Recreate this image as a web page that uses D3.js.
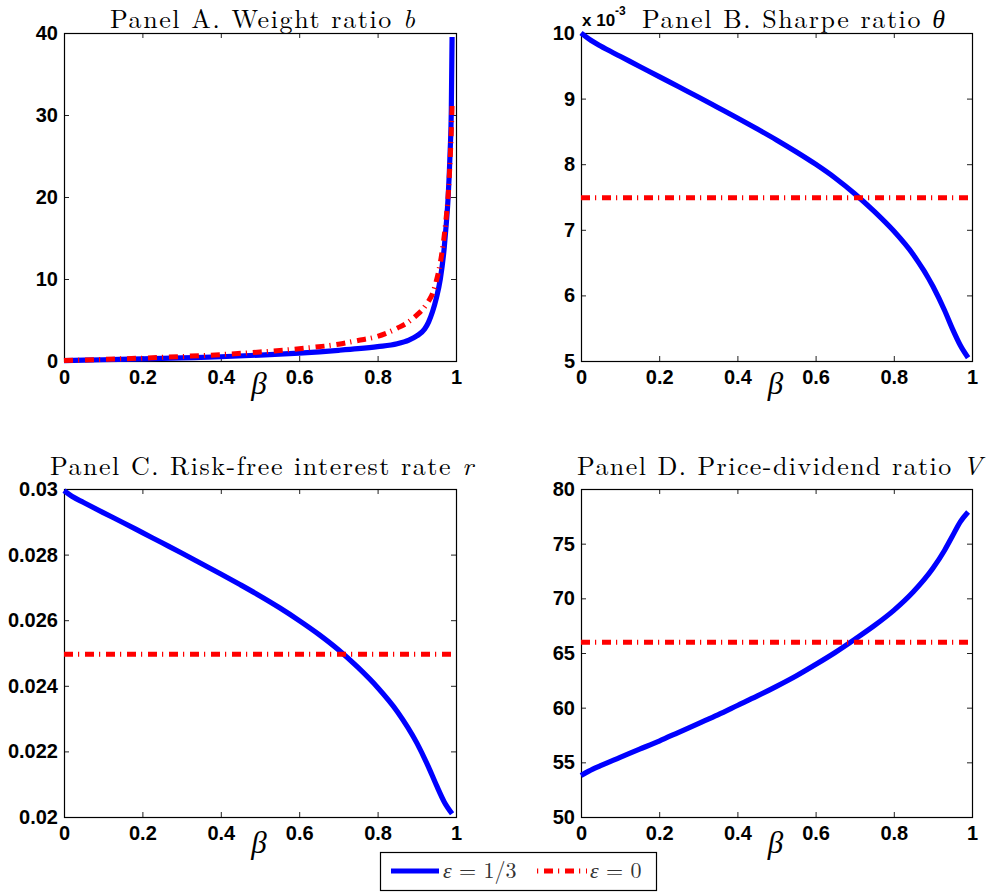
<!DOCTYPE html>
<html>
<head>
<meta charset="utf-8">
<script src="https://cdn.jsdelivr.net/npm/d3@7"></script>
<style>
  html, body { margin: 0; padding: 0; background: #fff; }
  svg { display: block; }
</style>
</head>
<body>
<svg id="chart" width="988" height="894"></svg>
<script>
// ---------------- DATA ----------------
const betaA = [0,0.1,0.2,0.3,0.4,0.5,0.6,0.7,0.75,0.8,0.85,0.88,0.9,0.92,0.93,0.94,0.95,0.96,0.97,0.975,0.98,0.985,0.988,0.99];
const weightEps13 = [0.05,0.15,0.25,0.38,0.52,0.72,0.97,1.3,1.5,1.75,2.1,2.55,3.05,3.9,4.75,6.0,7.7,10.0,13.8,16.6,20.0,25.5,30.5,39.5];
const weightEps0  = [0.05,0.2,0.35,0.55,0.78,1.1,1.5,2.05,2.5,3.0,4.0,4.8,5.6,6.6,7.3,8.2,9.8,12.0,15.3,17.5,20.2,24.5,28.0,31.2];

const betaGrid = [0,0.02,0.05,0.1,0.15,0.2,0.25,0.3,0.35,0.4,0.45,0.5,0.55,0.6,0.65,0.7,0.75,0.8,0.85,0.9,0.93,0.95,0.97,0.99];
const sharpeEps13 = [10.0,9.91,9.80,9.645,9.49,9.335,9.18,9.025,8.865,8.705,8.54,8.37,8.19,8.00,7.79,7.55,7.28,6.98,6.62,6.14,5.77,5.49,5.24,5.05];
const rateEps13 = [0.02995,0.02978,0.02959,0.02928,0.02898,0.02867,0.02836,0.02805,0.02773,0.02741,0.02708,0.02674,0.02638,0.02599,0.02557,0.02510,0.02456,0.02395,0.02322,0.02226,0.02152,0.02097,0.02046,0.02010];
const pdEps13 = [53.8,54.2,54.7,55.45,56.2,56.95,57.75,58.55,59.35,60.2,61.05,61.95,62.9,63.95,65.05,66.25,67.5,68.9,70.6,72.75,74.4,75.7,77.0,77.9];

const betaFlat = [0, 0.99];
const sharpeEps0 = [7.49, 7.49];
const rateEps0 = [0.02496, 0.02496];
const pdEps0 = [65.98, 65.98];

const xTicks = [0,0.2,0.4,0.6,0.8,1];
const xTickLabels = ["0","0.2","0.4","0.6","0.8","1"];
const yTicksA = [0,10,20,30,40];
const yTickLabelsA = ["0","10","20","30","40"];
const yTicksB = [5,6,7,8,9,10];
const yTickLabelsB = ["5","6","7","8","9","10"];
const yTicksC = [0.02,0.022,0.024,0.026,0.028,0.03];
const yTickLabelsC = ["0.02","0.022","0.024","0.026","0.028","0.03"];
const yTicksD = [50,55,60,65,70,75,80];
const yTickLabelsD = ["50","55","60","65","70","75","80"];

const legendLabels = ["1/3", "0"];

// ---------------- DRAW ----------------
const svg = d3.select("#chart");
const BLUE = "#0000ff", RED = "#ff0000";
const tickFont = "'Liberation Sans', Arial, Helvetica, sans-serif";
const serif = "'Latin Modern Roman','CMU Serif','Liberation Serif','Times New Roman',serif";

const panels = [
  { box:[64,456,33,361], yDom:[0,40], yTicks:yTicksA, yLabels:yTickLabelsA,
    xs:[betaA, betaA], ys:[weightEps13, weightEps0],
    title:["Panel A. Weight ratio ", "b"], tx:110, ty:28, tlen:305, betaY:394 },
  { box:[581,972,33,361], yDom:[5,10], yTicks:yTicksB, yLabels:yTickLabelsB,
    xs:[betaGrid, betaFlat], ys:[sharpeEps13, sharpeEps0],
    title:["Panel B. Sharpe ratio ", "θ"], tx:642, ty:28, tlen:303, betaY:394, expo:true },
  { box:[64,456,489,817], yDom:[0.02,0.03], yTicks:yTicksC, yLabels:yTickLabelsC,
    xs:[betaGrid, betaFlat], ys:[rateEps13, rateEps0],
    title:["Panel C. Risk-free interest rate ", "r"], tx:50, ty:475, tlen:423, betaY:853 },
  { box:[581,972,489,817], yDom:[50,80], yTicks:yTicksD, yLabels:yTickLabelsD,
    xs:[betaGrid, betaFlat], ys:[pdEps13, pdEps0],
    title:["Panel D. Price-dividend ratio ", "V"], tx:577, ty:475, tlen:405, betaY:853 }
];

panels.forEach(p => {
  const [x0,x1,y0,y1] = p.box;
  const x = d3.scaleLinear().domain([0,1]).range([x0,x1]);
  const y = d3.scaleLinear().domain(p.yDom).range([y1,y0]);
  const g = svg.append("g");

  const fmtX = d => xTickLabels[xTicks.indexOf(d)];
  const fmtY = d => p.yLabels[p.yTicks.indexOf(d)];
  const ax = [
    g.append("g").attr("transform",`translate(0,${y1})`)
      .call(d3.axisBottom(x).tickValues(xTicks).tickFormat(fmtX).tickSizeInner(-5).tickSizeOuter(0).tickPadding(9)),
    g.append("g").attr("transform",`translate(0,${y0})`)
      .call(d3.axisTop(x).tickValues(xTicks).tickFormat("").tickSizeInner(-5).tickSizeOuter(0)),
    g.append("g").attr("transform",`translate(${x0},0)`)
      .call(d3.axisLeft(y).tickValues(p.yTicks).tickFormat(fmtY).tickSizeInner(-5).tickSizeOuter(0).tickPadding(6)),
    g.append("g").attr("transform",`translate(${x1},0)`)
      .call(d3.axisRight(y).tickValues(p.yTicks).tickFormat("").tickSizeInner(-5).tickSizeOuter(0))
  ];
  ax.forEach(a => {
    a.select(".domain").remove();
    a.selectAll("line").attr("stroke","#222");
    a.selectAll("text").attr("font-family",tickFont).attr("font-weight","bold")
      .attr("font-size","20px").attr("fill","#000");
  });

  g.append("rect").attr("x",x0+0.5).attr("y",y0+0.5).attr("width",x1-x0).attr("height",y1-y0)
    .attr("fill","none").attr("stroke","#000").attr("stroke-width",1.2);

  const line = d3.line().x(d=>x(d[0])).y(d=>y(d[1])).curve(d3.curveMonotoneX);
  const blueData = p.xs[0].map((b,i)=>[b,p.ys[0][i]]);
  const redData = p.xs[1].map((b,i)=>[b,p.ys[1][i]]);
  g.append("path").attr("d",line(blueData)).attr("fill","none").attr("stroke",BLUE)
    .attr("stroke-width",5.2).attr("stroke-linejoin","round");
  g.append("path").attr("d",line(redData)).attr("fill","none").attr("stroke",RED)
    .attr("stroke-width",5).attr("stroke-dasharray","9,5,1.2,5.8");

  // title: fit width with letter spacing
  const t = g.append("text").attr("x",p.tx).attr("y",p.ty)
    .attr("font-family",serif).attr("font-size","26px").attr("fill","#000");
  t.append("tspan").text(p.title[0]);
  t.append("tspan").attr("font-style","italic").text(p.title[1]);
  const nat = t.node().getComputedTextLength();
  const n = (p.title[0] + p.title[1]).length;
  const ls = Math.max(0, (p.tlen - nat) / (n - 1));
  t.attr("letter-spacing", ls.toFixed(2) + "px");

  g.append("text").attr("x",(x0+x1)/2-1).attr("y",p.betaY).attr("text-anchor","middle")
    .attr("font-family",serif).attr("font-style","italic").attr("font-size","31px").text("β");

  if (p.expo) {
    const e = g.append("text").attr("x",582).attr("y",26).attr("font-family",tickFont)
      .attr("font-weight","bold").attr("font-size","17px");
    e.append("tspan").text("x 10");
    e.append("tspan").attr("font-size","12px").attr("dy",-11).text("-3");
  }
});

// legend
const lg = svg.append("g");
lg.append("rect").attr("x",380.5).attr("y",852.5).attr("width",276).attr("height",38)
  .attr("fill","#fff").attr("stroke","#000").attr("stroke-width",1.2);
lg.append("line").attr("x1",391).attr("x2",439).attr("y1",871).attr("y2",871)
  .attr("stroke",BLUE).attr("stroke-width",5.2);
lg.append("line").attr("x1",537).attr("x2",587).attr("y1",871).attr("y2",871)
  .attr("stroke",RED).attr("stroke-width",5).attr("stroke-dasharray","1.2,5.8,9,5");
[[443,legendLabels[0]],[590,legendLabels[1]]].forEach(([lx,lab]) => {
  const t = lg.append("text").attr("x",lx).attr("y",878).attr("font-family",serif)
    .attr("font-size","22px").attr("fill","#333");
  t.append("tspan").attr("font-style","italic").text("ε");
  t.append("tspan").text(" = " + lab);
});
</script>
</body>
</html>
